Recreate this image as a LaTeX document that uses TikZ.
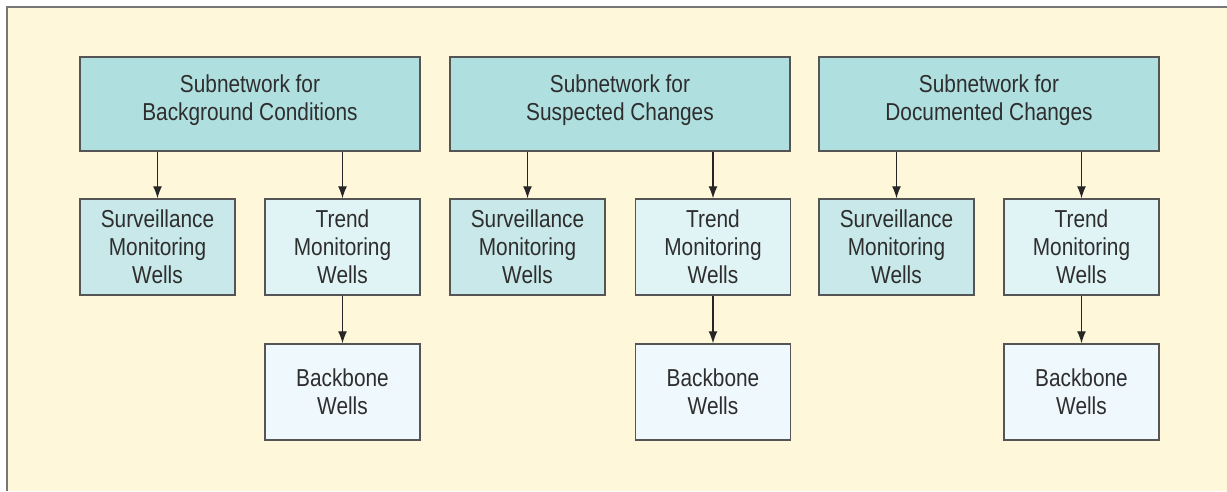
\documentclass[tikz,border=0pt]{standalone}
\usepackage{fontspec}
\setmainfont{Liberation Sans}[FakeStretch=0.85]
\usetikzlibrary{arrows.meta}
\definecolor{bgcream}{HTML}{FFF7D9}
\definecolor{topfill}{HTML}{B0DFE0}
\definecolor{survfill}{HTML}{C8E8EA}
\definecolor{trendfill}{HTML}{E0F3F5}
\definecolor{backfill}{HTML}{EFF8FC}
\definecolor{edgegrey}{HTML}{555555}
\definecolor{txt}{HTML}{2E2E2E}
\tikzset{
  box/.style={draw=edgegrey, line width=1.4pt, text=txt, align=center,
    font=\fontsize{24.5pt}{28pt}\selectfont, inner sep=0pt},
  topbox/.style={box, fill=topfill, minimum width=340pt, minimum height=94pt},
  survbox/.style={box, fill=survfill, minimum width=155pt, minimum height=96pt},
  trendbox/.style={box, fill=trendfill, minimum width=155pt, minimum height=96pt},
  backbox/.style={box, fill=backfill, minimum width=155pt, minimum height=96pt},
  link/.style={draw=black!85, line width=1.3pt, -{Latex[length=12pt,width=9pt]}}
}
\begin{document}
\begin{tikzpicture}[x=1pt,y=-1pt]
\useasboundingbox (0,0) rectangle (1227,491);
\fill[white] (0,0) rectangle (1227,491);
\fill[bgcream] (7,7) rectangle (1227,491);
\draw[edgegrey!80, line width=1.2pt] (7,491) -- (7,7) -- (1227,7);

\node[topbox, text depth=13pt] (t1) at (250,104) {Subnetwork for\\Background Conditions};
\node[topbox, text depth=13pt] (t2) at (620,104) {Subnetwork for\\Suspected Changes};
\node[topbox, text depth=13pt] (t3) at (989,104) {Subnetwork for\\Documented Changes};

\node[survbox] (s1) at (157.5,247) {Surveillance\\Monitoring\\Wells};
\node[trendbox] (r1) at (342.5,247) {Trend\\Monitoring\\Wells};
\node[backbox] (b1) at (342.5,392) {Backbone\\Wells};

\node[survbox] (s2) at (527.5,247) {Surveillance\\Monitoring\\Wells};
\node[trendbox] (r2) at (713,247) {Trend\\Monitoring\\Wells};
\node[backbox] (b2) at (713,392) {Backbone\\Wells};

\node[survbox] (s3) at (896.5,247) {Surveillance\\Monitoring\\Wells};
\node[trendbox] (r3) at (1081.5,247) {Trend\\Monitoring\\Wells};
\node[backbox] (b3) at (1081.5,392) {Backbone\\Wells};

\foreach \i in {1,2,3}{
  \draw[link] (t\i.south -| s\i.north) -- (s\i.north);
  \draw[link] (t\i.south -| r\i.north) -- (r\i.north);
  \draw[link] (r\i.south) -- (b\i.north);
}
\end{tikzpicture}
\end{document}
